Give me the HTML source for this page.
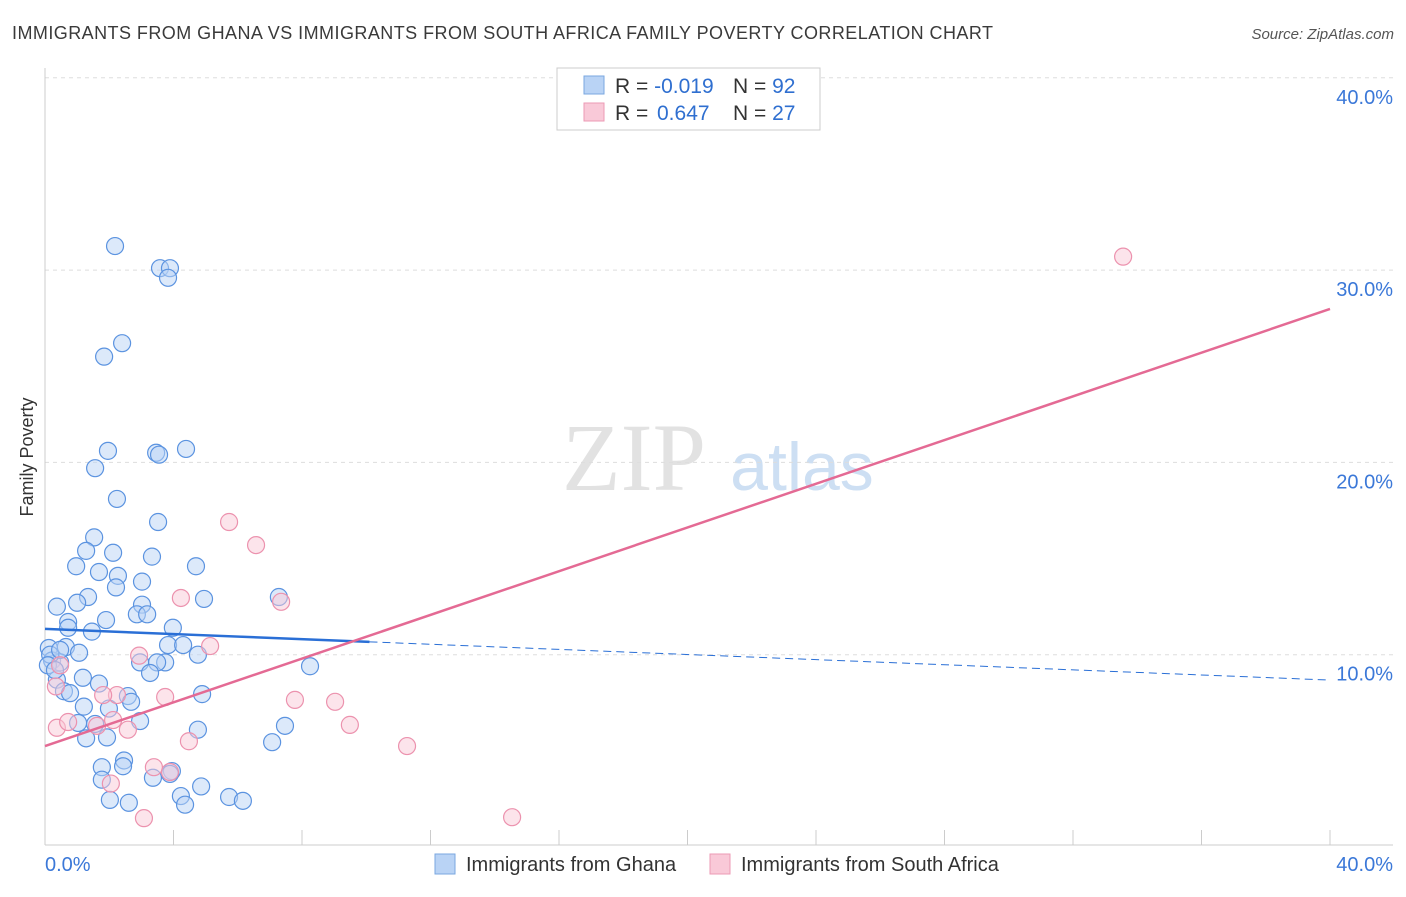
<!DOCTYPE html>
<html><head><meta charset="utf-8"><style>
body{margin:0;background:#fff;font-family:"Liberation Sans",sans-serif;}
</style></head><body>
<svg id="c" width="1406" height="892" xmlns="http://www.w3.org/2000/svg">
<text x="12" y="39" font-size="18" fill="#3a3a3a" textLength="981">IMMIGRANTS FROM GHANA VS IMMIGRANTS FROM SOUTH AFRICA FAMILY POVERTY CORRELATION CHART</text>
<text x="1394" y="39" font-size="15" fill="#555" font-style="italic" text-anchor="end">Source: ZipAtlas.com</text>
<text x="33" y="457" font-size="18" fill="#333" text-anchor="middle" transform="rotate(-90 33 457)">Family Poverty</text>
<g><text x="634" y="490" font-size="96" font-family="Liberation Serif,serif" fill="#e2e2e2" text-anchor="middle">ZIP</text><text x="802" y="490" font-size="68" fill="#cddff3" text-anchor="middle">atlas</text></g>
<g id="grid"></g><g id="axes"></g><g id="marks"></g>
<g>
<rect x="557" y="68" width="263" height="62" fill="#fff" stroke="#ccc"/>
<rect x="584" y="76" width="20" height="18" fill="#b9d3f5" stroke="#7aa7e0"/>
<rect x="584" y="103" width="20" height="18" fill="#f9c9d8" stroke="#ec9ab5"/>
<text x="615" y="93" font-size="21" fill="#333">R = <tspan fill="#2f6fd0">-0.019</tspan><tspan x="733">N = </tspan><tspan fill="#2f6fd0">92</tspan></text>
<text x="615" y="120" font-size="21" fill="#333">R = <tspan fill="#2f6fd0" x="657">0.647</tspan><tspan x="733">N = </tspan><tspan fill="#2f6fd0">27</tspan></text>
</g>
<g>
<rect x="435" y="854" width="20" height="20" fill="#b9d3f5" stroke="#7aa7e0"/>
<text x="466" y="871" font-size="20" fill="#333">Immigrants from Ghana</text>
<rect x="710" y="854" width="20" height="20" fill="#f9c9d8" stroke="#ec9ab5"/>
<text x="741" y="871" font-size="20" fill="#333">Immigrants from South Africa</text>
</g>
</svg>
<script>
const yTicks=[10,20,30,40];
const xTickLabels=["0.0%","40.0%"];
const ghanaX=[2.18,3.58,3.89,3.83,2.40,1.84,1.96,3.46,3.55,4.39,1.56,2.24,3.52,1.53,1.28,2.12,3.33,0.97,1.68,4.70,2.27,3.02,2.21,1.34,0.37,1.00,3.02,4.95,7.28,2.86,3.18,1.90,0.72,3.98,1.46,0.72,0.12,0.65,1.06,3.83,4.30,4.76,0.22,0.47,2.96,3.74,3.49,8.25,3.27,1.18,0.37,1.68,0.59,0.78,2.58,4.89,1.99,1.21,2.68,2.96,1.03,1.56,4.76,7.47,1.28,1.93,7.07,2.46,1.77,2.43,3.95,3.89,3.36,1.77,4.86,4.23,2.02,2.61,4.36,5.73,6.16,0.16,0.09,0.31,0.47];
const ghanaY=[31.25,30.1,30.1,29.6,26.2,25.5,20.6,20.5,20.4,20.7,19.7,18.1,16.9,16.1,15.4,15.3,15.1,14.6,14.3,14.6,14.1,13.8,13.5,13.0,12.5,12.7,12.6,12.9,13.0,12.1,12.1,11.8,11.7,11.4,11.2,11.4,10.35,10.4,10.1,10.5,10.5,10.0,9.7,9.6,9.6,9.6,9.6,9.4,9.05,8.8,8.7,8.5,8.1,8.0,7.85,7.95,7.2,7.3,7.55,6.55,6.45,6.4,6.1,6.3,5.65,5.7,5.45,4.5,4.15,4.2,3.95,3.8,3.6,3.5,3.15,2.65,2.45,2.3,2.2,2.6,2.4,10.0,9.45,9.2,10.25];
const saX=[33.56,5.73,6.57,4.23,7.35,5.14,2.93,3.74,7.78,9.03,2.24,1.81,9.49,11.27,4.48,0.37,0.72,1.62,2.12,2.58,3.39,3.89,2.05,3.08,14.54,0.34,0.47];
const saY=[30.7,16.9,15.7,12.95,12.75,10.45,9.95,7.8,7.65,7.55,7.9,7.9,6.35,5.25,5.5,6.2,6.5,6.3,6.6,6.1,4.15,3.9,3.3,1.5,1.55,8.35,9.45];
const ghanaTrend=[11.34,8.68];
const saTrend=[5.25,27.98];
const NS="http://www.w3.org/2000/svg";
const X=v=>45+v/40*1285, Y=v=>847-v*19.23;
function mk(t,a,p){const e=document.createElementNS(NS,t);for(const k in a)e.setAttribute(k,a[k]);p.appendChild(e);return e;}
const grid=document.getElementById('grid'),axes=document.getElementById('axes'),marks=document.getElementById('marks');
yTicks.forEach(t=>{
 const l=mk('line',{x1:45,x2:1393,y1:Y(t),y2:Y(t),stroke:'#ddd','stroke-dasharray':'4,4'},grid);
 
 
 const tx=mk('text',{x:1393,y:Y(t)+26,'font-size':20,fill:'#3b78d8','text-anchor':'end'},axes);
 tx.textContent=t.toFixed(1)+'%';
 
 
});
mk('line',{x1:45,x2:45,y1:68,y2:845,stroke:'#ccc'},axes);
mk('line',{x1:45,x2:1393,y1:845,y2:845,stroke:'#ccc'},axes);
for(let i=0;i<=10;i++){const t=mk('line',{x1:X(i*4),x2:X(i*4),y1:830,y2:845,stroke:'#ccc'},axes);
 
 }
[[0,'start',45],[40,'end',1393]].forEach((d,i)=>{const t=mk('text',{x:d[2],y:871,'font-size':20,fill:'#3b78d8','text-anchor':d[1]},axes);t.textContent=xTickLabels[i];
 
 });
function dots(xs,ys,fill,stroke,name){xs.forEach((x,i)=>{const c=mk('circle',{cx:X(x),cy:Y(ys[i]),r:8.5,fill:fill,'fill-opacity':0.5,stroke:stroke,'stroke-width':1.2},marks);
 
 });}
dots(ghanaX,ghanaY,'#b9d3f5','#5b93e0','ghana-point');
dots(saX,saY,'#f9c9d8','#ec92ae','south-africa-point');
const gy=x=>ghanaTrend[0]+(ghanaTrend[1]-ghanaTrend[0])*x/40;
let l1=mk('line',{x1:X(0),y1:Y(gy(0)),x2:X(10.1),y2:Y(gy(10.1)),stroke:'#2a6fd6','stroke-width':2.5},marks);


let l2=mk('line',{x1:X(10.1),y1:Y(gy(10.1)),x2:X(40),y2:Y(gy(40)),stroke:'#2a6fd6','stroke-width':1,'stroke-dasharray':'8,5'},marks);


let l3=mk('line',{x1:X(0),y1:Y(saTrend[0]),x2:X(40),y2:Y(saTrend[1]),stroke:'#e46a94','stroke-width':2.5},marks);


</script>
</body></html>
